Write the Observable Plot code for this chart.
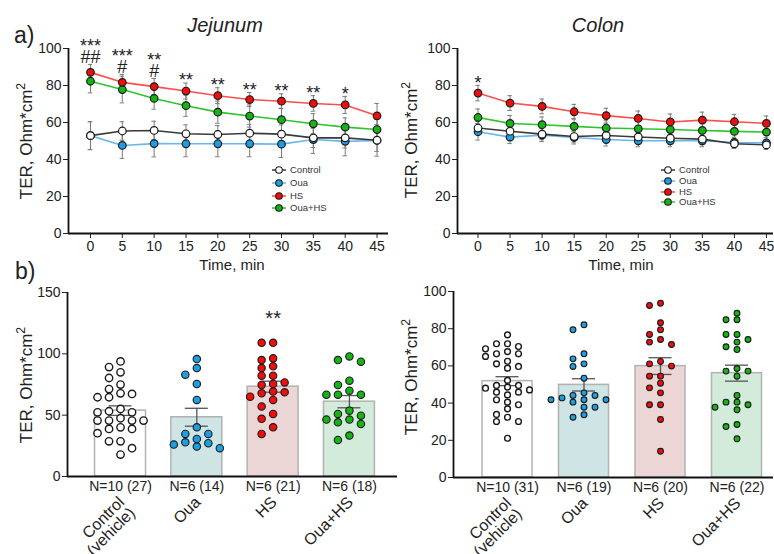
<!DOCTYPE html>
<html>
<head>
<meta charset="utf-8">
<script src="https://cdn.jsdelivr.net/npm/d3@7"></script>
<script src="https://cdn.jsdelivr.net/npm/@observablehq/plot@0.6"></script>
<style>
  html, body { margin: 0; padding: 0; background: #fff; }
  #fig { position: relative; width: 774px; height: 554px; overflow: hidden; background: #fff;
         font-family: "Liberation Sans", Arial, sans-serif; color: #222; }
  #fig svg { position: absolute; overflow: visible; }
  .txt { position: absolute; line-height: 1; white-space: nowrap; }
  .ctr { transform: translateX(-50%); }
  .ylab { position: absolute; line-height: 1; white-space: nowrap; font-size: 17px;
          transform: translate(-50%, -50%) rotate(-90deg); }
  .ylab sup { font-size: 0.72em; line-height: 0; vertical-align: 0.5em; }
  .legend { position: absolute; font-size: 9.5px; color: #333; }
  .legend .row { position: absolute; left: 0; white-space: nowrap; line-height: 1; }
  .legend svg { position: absolute; overflow: visible; }
</style>
</head>
<body>
<div id="fig">
  <div class="txt" style="left:14px;top:24px;font-size:23px">a)</div>
  <div class="txt" style="left:15px;top:260px;font-size:23px">b)</div>
  <div class="txt ctr" style="left:225px;top:15px;font-size:20px;font-style:italic">Jejunum</div>
  <div class="txt ctr" style="left:598px;top:15px;font-size:20px;font-style:italic">Colon</div>
  <div class="txt ctr" style="left:232px;top:257px;font-size:15px">Time, min</div>
  <div class="txt ctr" style="left:621px;top:257px;font-size:15px">Time, min</div>
  <div class="ylab" style="left:26px;top:141px">TER, Ohm*cm<sup>2</sup></div>
  <div class="ylab" style="left:411px;top:140px">TER, Ohm*cm<sup>2</sup></div>
  <div class="ylab" style="left:26px;top:385px">TER, Ohm*cm<sup>2</sup></div>
  <div class="ylab" style="left:411px;top:377px">TER, Ohm*cm<sup>2</sup></div>
</div>
<script>
// ---------------- data ----------------
const times = [0, 5, 10, 15, 20, 25, 30, 35, 40, 45];
const seriesNames = ["Control", "Oua", "HS", "Oua+HS"];
const categoryLabels = ["Control\n(vehicle)", "Oua", "HS", "Oua+HS"];

// a) Jejunum, mean and SEM over time
const jejControl = [52.9, 55.4, 55.7, 53.9, 53.5, 54.2, 53.7, 51.7, 51.7, 50.4];
const jejControlErr = [7.6, 5.0, 5.0, 4.8, 4.8, 4.8, 5.0, 5.2, 5.5, 6.0];
const jejOua = [52.9, 47.6, 48.6, 48.5, 48.5, 48.5, 48.3, 50.8, 49.8, 50.3];
const jejOuaErr = [7.5, 7.0, 7.2, 7.0, 7.0, 7.0, 7.2, 7.5, 7.8, 8.5];
const jejHs = [87.1, 81.7, 79.4, 77.0, 74.5, 72.4, 71.5, 70.3, 69.5, 63.6];
const jejHsErr = [4.3, 4.3, 4.4, 4.3, 4.3, 3.8, 4.0, 4.2, 4.6, 6.7];
const jejOuaHs = [82.3, 77.8, 73.0, 69.1, 65.6, 63.5, 61.5, 59.3, 57.5, 56.2];
const jejOuaHsErr = [6.3, 7.2, 5.8, 5.8, 6.0, 6.0, 6.2, 5.5, 5.0, 5.5];
const jejStars = ["***", "***", "**", "**", "**", "**", "**", "**", "*", ""];
const jejHashes = ["##", "#", "#", "", "", "", "", "", "", ""];

// a) Colon
const colControl = [57.0, 55.3, 53.7, 52.4, 53.0, 52.2, 51.5, 51.0, 48.5, 47.9];
const colControlErr = [3.5, 3.0, 3.0, 3.0, 3.0, 3.0, 3.0, 3.0, 2.5, 2.5];
const colOua = [55.0, 52.1, 53.2, 51.9, 50.8, 50.1, 50.1, 50.1, 49.2, 49.0];
const colOuaErr = [4.5, 3.5, 3.5, 3.5, 3.5, 3.2, 3.2, 3.2, 2.8, 2.8];
const colHs = [75.9, 70.5, 68.7, 65.8, 63.7, 62.2, 60.3, 61.3, 60.4, 59.5];
const colHsErr = [4.2, 4.0, 4.0, 4.0, 4.0, 4.0, 4.3, 4.3, 4.0, 4.0];
const colOuaHs = [62.7, 59.5, 58.8, 57.9, 57.0, 56.6, 56.2, 55.7, 55.2, 54.8];
const colOuaHsErr = [4.6, 4.3, 4.2, 4.2, 4.2, 4.2, 4.2, 4.0, 4.0, 4.0];
const colStars = ["*", "", "", "", "", "", "", "", "", ""];
const colHashes = ["", "", "", "", "", "", "", "", "", ""];

// b) Jejunum, individual values, bar mean and SEM
const jejControlDots = [93.8, 89.2, 84.9, 80.3, 74.9, 71.3, 67.8, 67.3, 64.6, 64.6, 55.1, 53.2, 52.3, 52.3,
  47.5, 45.6, 45.6, 45.6, 45.6, 40.1, 38.8, 38.8, 35.3, 28.7, 28.7, 23.1, 17.9];
const jejOuaDots = [95.7, 88.4, 83.0, 75.4, 62.4, 40.1, 34.7, 34.7, 24.4, 27.9, 26.0, 27.1, 30.6, 23.1];
const jejHsDots = [109.0, 109.0, 96.3, 94.9, 89.8, 88.4, 82.2, 82.2, 74.6, 76.7, 75.4, 65.1, 67.8, 69.2,
  68.6, 57.0, 62.4, 47.0, 51.0, 34.7, 40.1];
const jejOuaHsDots = [94.9, 93.6, 97.9, 78.1, 74.6, 70.0, 66.7, 66.7, 66.7, 53.7, 46.4, 49.6, 42.8, 51.0,
  44.2, 46.4, 29.8, 33.4];
const jejBarMean = [53.7, 48.3, 73.2, 61.0];
const jejBarSem = [3.9, 7.3, 4.5, 5.0];
const jejNLabels = ["N=10 (27)", "N=6 (14)", "N=6 (21)", "N=6 (18)"];
const jejBarSig = ["", "", "**", ""];

// b) Colon
const colControlDots = [76.7, 70.4, 66.5, 71.9, 66.5, 71.9, 69.2, 65.1, 67.7, 61.1, 62.5, 58.8, 59.7, 52.2,
  49.5, 45.9, 47.1, 48.6, 44.4, 49.5, 45.9, 48.0, 41.8, 40.5, 36.9, 39.1, 32.4, 30.1, 33.9, 30.1, 21.1];
const colOuaDots = [79.4, 82.1, 66.5, 63.8, 59.7, 61.1, 53.4, 41.8, 44.1, 40.5, 44.1, 45.5, 41.8, 41.8,
  42.8, 37.8, 37.8, 32.4, 33.7];
const colHsDots = [92.5, 93.7, 83.2, 79.4, 74.2, 76.9, 71.5, 72.8, 59.9, 61.1, 62.4, 54.5, 54.5, 50.7,
  48.2, 45.5, 39.1, 39.1, 31.2, 14.1];
const colOuaHsDots = [88.3, 84.8, 84.8, 76.9, 76.9, 72.8, 74.2, 68.8, 70.3, 57.2, 57.2, 58.6, 54.5, 44.1,
  40.5, 37.8, 40.5, 36.4, 39.1, 28.5, 27.4, 20.8];
const colBarMean = [51.8, 49.8, 59.9, 56.1];
const colBarSem = [2.4, 3.3, 4.5, 4.3];
const colNLabels = ["N=10 (31)", "N=6 (19)", "N=6 (20)", "N=6 (22)"];
const colBarSig = ["", "", "", ""];

// ---------------- styles ----------------
const dotFill = {"Control": "#ffffff", "Oua": "#1c9ee3", "HS": "#f20d0d", "Oua+HS": "#14b414"};
const lineStroke = {"Control": "#3a3a3a", "Oua": "#6ab7ee", "HS": "#ff4d4d", "Oua+HS": "#2ec42e"};
const barFill = ["#ffffff", "#cfe4e4", "#ebd5d5", "#d3ebda"];
const fontStack = "Liberation Sans, Arial, sans-serif";
const fig = document.getElementById("fig");

function place(svg, left, top) {
  svg.style.left = left + "px";
  svg.style.top = top + "px";
  fig.appendChild(svg);
}

function linePlot(o) {
  const rows = [];
  o.series.forEach(s => s.mean.forEach((v, i) => rows.push({name: s.name, t: times[i], v, e: s.err[i]})));
  const drawOrder = ["Oua", "Control", "Oua+HS", "HS"];
  const cap = 0.35;
  const marks = [
    Plot.ruleX(rows, {x: "t", y1: d => d.v - d.e, y2: d => d.v + d.e, stroke: "#7a7a7a", strokeWidth: 1}),
    Plot.ruleY(rows, {y: d => d.v + d.e, x1: d => d.t - cap, x2: d => d.t + cap, stroke: "#7a7a7a", strokeWidth: 1}),
    Plot.ruleY(rows, {y: d => d.v - d.e, x1: d => d.t - cap, x2: d => d.t + cap, stroke: "#7a7a7a", strokeWidth: 1})
  ];
  for (const n of drawOrder)
    marks.push(Plot.line(rows.filter(d => d.name === n), {x: "t", y: "v", stroke: lineStroke[n], strokeWidth: 1.6}));
  for (const n of drawOrder)
    marks.push(Plot.dot(rows.filter(d => d.name === n), {x: "t", y: "v", r: 3.8, fill: dotFill[n], stroke: "#1a1a1a", strokeWidth: 1.2}));
  const hs = o.series.find(s => s.name === "HS");
  const sig = times.map((t, i) => ({t, top: hs.mean[i] + hs.err[i], star: o.stars[i], hash: o.hashes[i]}));
  // stars stacked over hashes as one two-line label
  marks.push(Plot.text(sig.filter(d => d.hash), {x: "t", y: "top", text: d => d.star + "\n" + d.hash,
    lineAnchor: "bottom", lineHeight: 0.62, dy: -1.7, fontSize: 18}));
  marks.push(Plot.text(sig.filter(d => d.star && !d.hash), {x: "t", y: "top", text: "star", dy: -2.5, fontSize: 18}));
  marks.push(Plot.ruleY([0], {stroke: "#111", strokeWidth: 1.8}));
  marks.push(Plot.ruleX([o.xDomain[0]], {stroke: "#111", strokeWidth: 1.8}));
  return Plot.plot({
    width: o.width, height: o.height,
    marginLeft: o.marginLeft, marginRight: o.marginRight, marginTop: o.marginTop, marginBottom: o.marginBottom,
    style: {background: "transparent", fontFamily: fontStack, fontSize: "14px", color: "#222", overflow: "visible"},
    x: {domain: o.xDomain, ticks: times, tickSize: 5, tickPadding: 3, label: null},
    y: {domain: [0, 100], ticks: [0, 20, 40, 60, 80, 100], tickSize: 5, tickPadding: 2, label: null},
    marks
  });
}

// column scatter: each value goes to the nearest free column slot (0, -1, +1, -2, +2 ...)
function swarm(values, gi, name, pxPerUnit, minDist) {
  const placed = [];
  const sorted = [...values].sort((a, b) => b - a);
  for (const v of sorted) {
    for (let k = 0; k < 50; k++) {
      const slot = k % 2 ? -(k + 1) / 2 : k / 2;
      if (!placed.some(p => p.slot === slot && Math.abs(p.v - v) * pxPerUnit < minDist)) {
        placed.push({g: gi, name, v, slot});
        break;
      }
    }
  }
  return placed;
}

function barPlot(o) {
  const pxPerUnit = (o.height - o.marginTop - o.marginBottom) / o.yMax;
  const pxPerGroup = (o.width - o.marginLeft - o.marginRight) / (o.xDomain[1] - o.xDomain[0]);
  const spacing = o.dotSpacing / pxPerGroup;
  const capHalf = 11.5 / pxPerGroup;
  const bars = seriesNames.map((n, i) => ({
    i, name: n, mean: o.mean[i], sem: o.sem[i], fill: barFill[i], nlab: o.nLabels[i],
    cat: categoryLabels[i], sig: o.sig[i], top: d3.max(o.dots[i])
  }));
  let dots = [];
  o.dots.forEach((vals, i) => { dots = dots.concat(swarm(vals, i, seriesNames[i], pxPerUnit, 2 * o.r + 0.2)); });
  const marks = [
    Plot.rectY(bars, {x1: d => d.i - o.halfW, x2: d => d.i + o.halfW, y1: 0, y2: "mean", fill: "fill", stroke: "#b2b2b2", strokeWidth: 1.5}),
    Plot.ruleX(bars, {x: "i", y1: d => d.mean - d.sem, y2: d => d.mean + d.sem, stroke: "#555", strokeWidth: 1.3}),
    Plot.ruleY(bars, {y: d => d.mean + d.sem, x1: d => d.i - capHalf, x2: d => d.i + capHalf, stroke: "#555", strokeWidth: 1.3}),
    Plot.ruleY(bars, {y: d => d.mean - d.sem, x1: d => d.i - capHalf, x2: d => d.i + capHalf, stroke: "#555", strokeWidth: 1.3})
  ];
  seriesNames.forEach(n => {
    marks.push(Plot.dot(dots.filter(d => d.name === n), {
      x: d => d.g + d.slot * spacing, y: "v", r: o.r, fill: dotFill[n],
      stroke: "#1a1a1a", strokeWidth: n === "Control" ? 1.4 : 1.1
    }));
  });
  marks.push(Plot.text(bars.filter(d => d.sig), {x: "i", y: "top", text: "sig", dy: -24, fontSize: 20}));
  marks.push(Plot.text(bars, {x: "i", text: "nlab", frameAnchor: "bottom", dy: 14, fontSize: 14}));
  marks.push(Plot.text(bars, {x: "i", text: "cat", frameAnchor: "bottom", dy: 19, dx: -3, rotate: -45,
    textAnchor: "end", lineAnchor: "top", lineHeight: 0.95, fontSize: 16}));
  marks.push(Plot.ruleY([0], {stroke: "#111", strokeWidth: 1.8}));
  marks.push(Plot.ruleX([o.xDomain[0]], {stroke: "#111", strokeWidth: 1.8}));
  return Plot.plot({
    width: o.width, height: o.height,
    marginLeft: o.marginLeft, marginRight: o.marginRight, marginTop: o.marginTop, marginBottom: o.marginBottom,
    style: {background: "transparent", fontFamily: fontStack, fontSize: "14px", color: "#222", overflow: "visible"},
    color: {type: "identity"},
    x: {domain: o.xDomain, axis: null},
    y: {domain: [0, o.yMax], ticks: o.yTicks, tickSize: 5, tickPadding: 2, label: null},
    marks
  });
}

function legend(left, top, rowH) {
  const div = document.createElement("div");
  div.className = "legend";
  div.style.left = left + "px";
  div.style.top = top + "px";
  seriesNames.forEach((n, i) => {
    const row = document.createElement("div");
    row.className = "row";
    row.style.top = (i * rowH) + "px";
    row.innerHTML =
      `<svg width="14" height="10" style="left:0;top:-5px">` +
      `<line x1="0" y1="5" x2="14" y2="5" stroke="${lineStroke[n]}" stroke-width="1.5"/>` +
      `<circle cx="7" cy="5" r="3.3" fill="${dotFill[n]}" stroke="#1a1a1a" stroke-width="1.1"/></svg>` +
      `<span style="position:absolute;left:18px;top:-5px">${n}</span>`;
    div.appendChild(row);
  });
  fig.appendChild(div);
}

// ---------------- draw ----------------
place(linePlot({
  width: 400, height: 280, marginLeft: 68, marginRight: 12, marginTop: 48, marginBottom: 47,
  xDomain: [-3.45, 46.8],
  series: [
    {name: "Control", mean: jejControl, err: jejControlErr},
    {name: "Oua", mean: jejOua, err: jejOuaErr},
    {name: "HS", mean: jejHs, err: jejHsErr},
    {name: "Oua+HS", mean: jejOuaHs, err: jejOuaHsErr}
  ],
  stars: jejStars, hashes: jejHashes
}), 0, 0);

place(linePlot({
  width: 384, height: 280, marginLeft: 67, marginRight: 1, marginTop: 48, marginBottom: 47,
  xDomain: [-3.2, 46.1],
  series: [
    {name: "Control", mean: colControl, err: colControlErr},
    {name: "Oua", mean: colOua, err: colOuaErr},
    {name: "HS", mean: colHs, err: colHsErr},
    {name: "Oua+HS", mean: colOuaHs, err: colOuaHsErr}
  ],
  stars: colStars, hashes: colHashes
}), 390, 0);

place(barPlot({
  width: 400, height: 274, marginLeft: 67, marginRight: 3, marginTop: 12, marginBottom: 78,
  xDomain: [-0.695, 3.63], yMax: 150, yTicks: [0, 50, 100, 150], halfW: 0.334, r: 3.7, dotSpacing: 11.5,
  mean: jejBarMean, sem: jejBarSem, nLabels: jejNLabels, sig: jejBarSig,
  dots: [jejControlDots, jejOuaDots, jejHsDots, jejOuaHsDots]
}), 0, 280);

place(barPlot({
  width: 384, height: 274, marginLeft: 63, marginRight: 1, marginTop: 11, marginBottom: 77,
  xDomain: [-0.706, 3.477], yMax: 100, yTicks: [0, 20, 40, 60, 80, 100], halfW: 0.327, r: 2.9, dotSpacing: 11,
  mean: colBarMean, sem: colBarSem, nLabels: colNLabels, sig: colBarSig,
  dots: [colControlDots, colOuaDots, colHsDots, colOuaHsDots]
}), 390, 280);

legend(272, 170, 12.8);
legend(661, 170, 10.8);
</script>
</body>
</html>
